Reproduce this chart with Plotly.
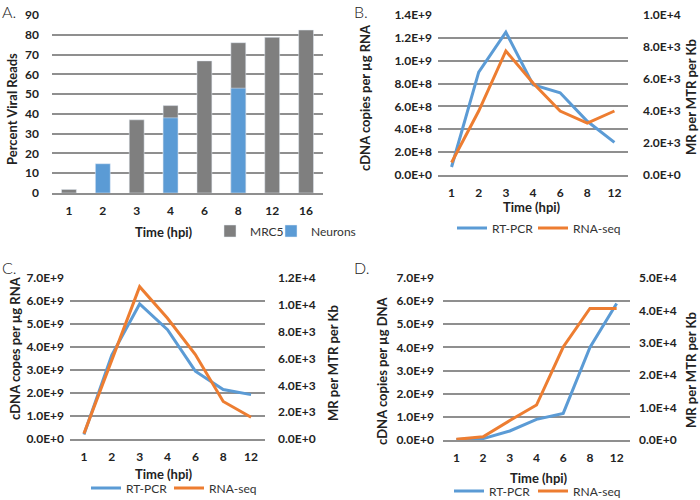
import plotly.graph_objects as go

# ---------------- data ----------------
cats_a = ["1", "2", "3", "4", "6", "8", "12", "16"]
mrc5 = [1.8, None, 37.0, 44.2, 66.8, 76.0, 78.7, 82.4]
neurons = [None, 14.8, None, 38.0, None, 53.0, None, None]

cats_t = ["1", "2", "3", "4", "6", "8", "12"]
b_rtpcr = [7.0e7, 9.0e8, 1.25e9, 7.9e8, 7.2e8, 4.7e8, 2.85e8]
b_rnaseq = [780, 4000, 7750, 5750, 4000, 3250, 4000]
c_rtpcr = [0.2e9, 3.65e9, 5.87e9, 4.75e9, 2.95e9, 2.15e9, 1.93e9]
c_rnaseq = [400, 5800, 11350, 9000, 6300, 2800, 1620]
d_rtpcr = [0.02e9, 0.06e9, 0.39e9, 0.89e9, 1.15e9, 4.0e9, 5.9e9]
d_rnaseq = [200, 1000, 6000, 10800, 28700, 40600, 40600]

# ---------------- style ----------------
BLUE = "#5b9bd5"
ORANGE = "#ed7d31"
GRAY = "#7f7f7f"
GRID = "#8f8f8f"
FONT = "Lato"
W, H = 700, 500


def sci(v):
    if v == 0:
        return "0.0E+0"
    m, e = f"{v:.1E}".split("E")
    return f"{m}E+{int(e)}"


def ticks(top, step):
    n = int(round(top / step))
    vals = [i * step for i in range(n + 1)]
    return vals, [sci(v) for v in vals]


def px_x(x):
    return x / W


def px_y(y):
    return 1 - y / H


tickfont = dict(family=FONT, size=12, color="#222222", weight="bold")
titlefont = dict(family=FONT, size=13, color="#222222", weight="bold")
legfont = dict(family=FONT, size=12, color="#333333")

fig = go.Figure()

# ---- Panel A: bars ----
fig.add_trace(go.Bar(x=cats_a, y=mrc5, name="MRC5", marker_color=GRAY, width=0.44,
                     xaxis="x", yaxis="y", legend="legend", legendwidth=16))
fig.add_trace(go.Bar(x=cats_a, y=neurons, name="Neurons", marker_color=BLUE, width=0.44,
                     xaxis="x", yaxis="y", legend="legend", legendwidth=60))

# ---- Panels B, C, D: lines ----
panels = [
    ("x2", "y2", "y3", b_rtpcr, b_rnaseq, "legend2", 36),
    ("x3", "y4", "y5", c_rtpcr, c_rnaseq, "legend3", 38),
    ("x4", "y6", "y7", d_rtpcr, d_rnaseq, "legend4", 39),
]
for xa, yl, yr, rt, rs, lg, ew in panels:
    fig.add_trace(go.Scatter(x=cats_t, y=rt, name="RT-PCR", mode="lines",
                             line=dict(color=BLUE, width=3), xaxis=xa, yaxis=yl, legend=lg,
                             legendwidth=ew))
    fig.add_trace(go.Scatter(x=cats_t, y=rs, name="RNA-seq", mode="lines",
                             line=dict(color=ORANGE, width=3), xaxis=xa, yaxis=yr, legend=lg,
                             legendwidth=60))

# domains in pixels
dom = {
    "A": ((52, 323), (15, 193)),
    "B": ((438, 628), (15, 175)),
    "C": ((70, 265), (278, 439)),
    "D": ((443, 630), (278, 440)),
}


def xd(p):
    return [px_x(dom[p][0][0]), px_x(dom[p][0][1])]


def yd(p):
    return [px_y(dom[p][1][1]), px_y(dom[p][1][0])]


def xaxis_cfg(p, anchor, n):
    return dict(domain=xd(p), anchor=anchor, type="category", range=[-0.5, n - 0.5],
                showgrid=False, zeroline=False,
                showline=True, linecolor=GRID, linewidth=1.5, ticks="", tickfont=tickfont,
                ticklabelstandoff=6, fixedrange=True)


def yleft_cfg(p, anchor, top, step, standoff, tv=None, tt=None):
    cfg = dict(domain=yd(p), anchor=anchor, range=[0, top], showgrid=True, gridcolor=GRID,
               gridwidth=1.5, zeroline=False, showline=False, ticks="", tickfont=tickfont,
               ticklabelstandoff=standoff)
    if tv is not None:
        cfg.update(tickmode="array", tickvals=tv, ticktext=tt)
    else:
        cfg.update(tickmode="linear", tick0=0, dtick=step)
    return cfg


def yright_cfg(p, anchor, overlay, top, step, standoff):
    tv, tt = ticks(top, step)
    return dict(domain=yd(p), anchor=anchor, overlaying=overlay, side="right", range=[0, top],
                showgrid=False, zeroline=False, showline=False, ticks="", tickfont=tickfont,
                tickmode="array", tickvals=tv, ticktext=tt, ticklabelstandoff=standoff)


bl_v, bl_t = ticks(1.4e9, 2e8)
cl_v, cl_t = ticks(7e9, 1e9)
dl_v, dl_t = ticks(7e9, 1e9)


def leg(x, y):
    return dict(orientation="h", x=px_x(x), y=px_y(y), xanchor="left", yanchor="middle",
                font=legfont, bgcolor="rgba(0,0,0,0)", itemclick=False, itemdoubleclick=False)


fig.update_layout(
    width=W, height=H, margin=dict(l=0, r=0, t=0, b=0, autoexpand=False),
    paper_bgcolor="white", plot_bgcolor="white", barmode="overlay",
    xaxis=xaxis_cfg("A", "y", len(cats_a)),
    yaxis=yleft_cfg("A", "x", 90, 10, 12),
    xaxis2=xaxis_cfg("B", "y2", len(cats_t)),
    yaxis2=yleft_cfg("B", "x2", 1.4e9, None, 5, bl_v, bl_t),
    yaxis3=yright_cfg("B", "x2", "y2", 1e4, 2e3, 14),
    xaxis3=xaxis_cfg("C", "y4", len(cats_t)),
    yaxis4=yleft_cfg("C", "x3", 7e9, None, 5, cl_v, cl_t),
    yaxis5=yright_cfg("C", "x3", "y4", 1.2e4, 2e3, 12),
    xaxis4=xaxis_cfg("D", "y6", len(cats_t)),
    yaxis6=yleft_cfg("D", "x4", 7e9, None, 8, dl_v, dl_t),
    yaxis7=yright_cfg("D", "x4", "y6", 5e4, 1e4, 8),
    legend=leg(210, 231),
    legend2=leg(452, 228),
    legend3=leg(86, 488),
    legend4=leg(449, 491),
    showlegend=True,
)

ann = []


def text(x, y, s, font, angle=0):
    ann.append(dict(x=px_x(x), y=px_y(y), xref="paper", yref="paper", text=s, showarrow=False,
                    font=font, textangle=angle, xanchor="center", yanchor="middle"))


letter = dict(family=FONT, size=16, color="#222222", weight=300)
for lx, ly, s in [(0, 0, "A."), (352, 0, "B."), (0, 256, "C."), (352, 256, "D.")]:
    ann.append(dict(x=px_x(lx), y=px_y(ly), xref="paper", yref="paper", text=s,
                    showarrow=False, font=letter, xanchor="left", yanchor="top"))

# axis titles
text(164, 232, "Time (hpi)", titlefont)
text(12, 109, "Percent Viral Reads", titlefont, -90)

text(532, 207, "Time (hpi)", titlefont)
text(365, 98, "cDNA copies per µg RNA", titlefont, -90)
text(691, 97, "MR per MTR per Kb", titlefont, -90)

text(164, 474, "Time (hpi)", titlefont)
text(15, 348, "cDNA copes per µg RNA", titlefont, -90)
text(333, 363, "MR per MTR per Kb", titlefont, -90)

text(539, 478, "Time (hpi)", titlefont)
text(382, 371, "cDNA copies per µg DNA", titlefont, -90)
text(691, 370, "MR per MTR per Kb", titlefont, -90)

fig.update_layout(annotations=ann)

fig.write_html("out.html", config={"displayModeBar": False},
               post_script="document.body.style.margin='0px';")
